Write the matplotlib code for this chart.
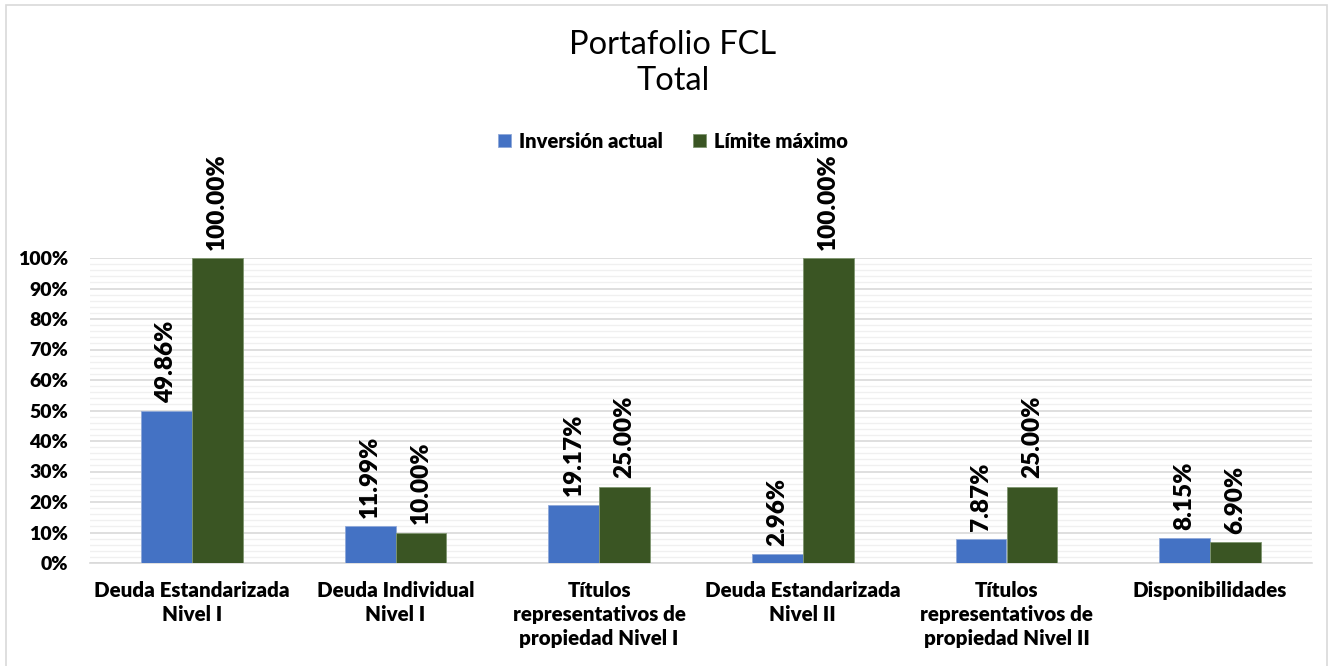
import matplotlib
matplotlib.use("Agg")
import matplotlib.pyplot as plt
from matplotlib.patches import Rectangle
from matplotlib.ticker import MultipleLocator, PercentFormatter
import numpy as np

categories = ["Deuda Estandarizada\nNivel I", "Deuda Individual\nNivel I",
              "Títulos\nrepresentativos de\npropiedad Nivel I",
              "Deuda Estandarizada\nNivel II",
              "Títulos\nrepresentativos de\npropiedad Nivel II",
              "Disponibilidades"]
inversion_actual = [49.86, 11.99, 19.17, 2.96, 7.87, 8.15]
limite_maximo = [100.00, 10.00, 25.00, 100.00, 25.00, 6.90]
series_names = ["Inversión actual", "Límite máximo"]
title = "Portafolio FCL\nTotal"

plt.rcParams['font.family'] = ['Lato', 'DejaVu Sans']

W, H = 1334, 666
fig = plt.figure(figsize=(W / 100, H / 100), dpi=100)
ax = fig.add_axes([90 / W, 1 - 563 / H, (1312 - 90) / W, (563 - 258) / H])

x = np.arange(len(categories))
bw = 0.25
c_blue = "#4472C4"
c_green = "#3A5523"
b1 = ax.bar(x - bw / 2, inversion_actual, bw, color=c_blue, edgecolor="#8FA8D8", linewidth=0.6,
            label=series_names[0], zorder=3)
b2 = ax.bar(x + bw / 2, limite_maximo, bw, color=c_green, edgecolor="#7F9670", linewidth=0.6,
            label=series_names[1], zorder=3)

for bars, vals in ((b1, inversion_actual), (b2, limite_maximo)):
    for rect, v in zip(bars, vals):
        ax.annotate(f"{v:.2f}%", (rect.get_x() + rect.get_width() / 2, rect.get_height()),
                    xytext=(0, 6), textcoords="offset points", rotation=90,
                    ha="center", va="bottom", fontsize=17.5, fontweight="heavy",
                    color="#000000", annotation_clip=False)

ax.set_xlim(-0.5, len(categories) - 0.5)
ax.set_ylim(0, 100)
ax.yaxis.set_major_locator(MultipleLocator(10))
ax.yaxis.set_minor_locator(MultipleLocator(2))
ax.yaxis.set_major_formatter(PercentFormatter(decimals=0))
ax.grid(axis="y", which="major", color="#D9D9D9", linewidth=1.2, zorder=0)
ax.grid(axis="y", which="minor", color="#F0F0F0", linewidth=1.0, zorder=0)
ax.set_axisbelow(True)
for s in ["top", "right", "left"]:
    ax.spines[s].set_visible(False)
ax.spines["bottom"].set_color("#D9D9D9")
ax.spines["bottom"].set_linewidth(1.2)
ax.tick_params(axis="both", which="both", length=0)
ax.tick_params(axis="y", pad=16, labelsize=14)
ax.tick_params(axis="x", pad=13, labelsize=14.8)
ax.set_xticks(x)
ax.set_xticklabels(categories, linespacing=1.3)
for lab in ax.get_xticklabels() + ax.get_yticklabels():
    lab.set_fontweight("heavy")
    lab.set_color("#000000")

fig.text(673 / W, 1 - 63 / H, title, ha="center", va="center", fontsize=23.5,
         linespacing=1.25, color="#000000")

fig.legend(handles=[b1, b2], loc="center", bbox_to_anchor=(673 / W, 1 - 141 / H),
           ncol=2, frameon=False, prop={"weight": "heavy", "size": 14.5},
           handlelength=0.65, handleheight=0.65, handletextpad=0.4, columnspacing=1.5)

fig.patches.append(Rectangle((6 / W, -0.05), (1327 - 6) / W, 1 - 5 / H + 0.05,
                             transform=fig.transFigure, fill=False,
                             edgecolor="#D9D9D9", linewidth=1.2))

fig.savefig("out.png", dpi=100, facecolor="white")
